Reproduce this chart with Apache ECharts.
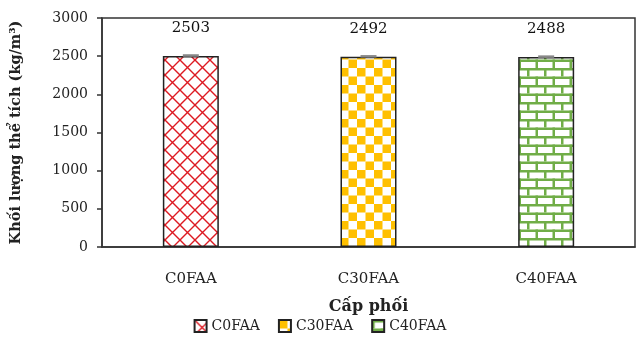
<!DOCTYPE html>
<html><head><meta charset="utf-8">
<script src="https://cdn.jsdelivr.net/npm/echarts@6/dist/echarts.min.js"></script>
<style>html,body{margin:0;padding:0;background:#fff}#c{width:640px;height:339px}</style>
</head><body><div id="c"></div>
<script>
const categories = ['C0FAA', 'C30FAA', 'C40FAA'];
const values = [2503, 2492, 2488];
const errors = [6, 6, 6];
const yTicks = [0, 500, 1000, 1500, 2000, 2500, 3000];

function makeCanvas(w, h, draw) {
  const c = document.createElement('canvas'); c.width = w; c.height = h;
  const ctx = c.getContext('2d'); ctx.fillStyle = '#fff'; ctx.fillRect(0, 0, w, h); draw(ctx); return c;
}
const lattice = makeCanvas(15, 15, ctx => {
  ctx.strokeStyle = '#DD1A22'; ctx.lineWidth = 1.4;
  ctx.beginPath(); ctx.moveTo(0, 0); ctx.lineTo(15, 15); ctx.moveTo(15, 0); ctx.lineTo(0, 15); ctx.stroke();
});
const checker = makeCanvas(17, 17, ctx => {
  ctx.fillStyle = '#FFC000'; ctx.fillRect(0, 0, 8.5, 8.5); ctx.fillRect(8.5, 8.5, 8.5, 8.5);
});
const brick = makeCanvas(17, 17, ctx => {
  ctx.fillStyle = '#70AD47';
  ctx.fillRect(0, 0, 17, 2.5); ctx.fillRect(0, 8.5, 17, 2.5);
  ctx.fillRect(0, 0, 2.5, 8.5); ctx.fillRect(8.5, 8.5, 2.5, 8.5);
});
const patterns = [lattice, checker, brick];
const font = 'DejaVu Serif';

const series = categories.map((name, i) => ({
  name: name, type: 'bar', stack: 's',
  data: categories.map((c, j) => j === i ? values[i] : null),
  barWidth: 56,
  itemStyle: { color: { image: patterns[i], repeat: 'repeat' }, borderColor: '#222', borderWidth: 1.5 },
  label: { show: true, position: 'top', distance: 20, color: '#111', fontFamily: font, fontSize: 15 }
}));
series.push({
  type: 'custom', name: 'err', silent: true,
  renderItem: function (params, api) {
    const x = api.value(0), v = api.value(1), e = api.value(2);
    const top = api.coord([x, v + e]), bot = api.coord([x, v - e]);
    const hw = 8;
    return { type: 'group', children: [
      { type: 'line', shape: { x1: top[0] - hw, y1: top[1], x2: top[0] + hw, y2: top[1] }, style: { stroke: '#888', lineWidth: 2.5 } },
      { type: 'line', shape: { x1: top[0], y1: top[1], x2: bot[0], y2: bot[1] }, style: { stroke: '#888', lineWidth: 2.5 } }
    ]};
  },
  data: categories.map((c, i) => [i, values[i], errors[i]]), z: 10
});

const chart = echarts.init(document.getElementById('c'));
chart.setOption({
  animation: false,
  grid: { left: 102, right: 5, top: 18, bottom: 92, show: true, borderColor: '#333', borderWidth: 1.5 },
  legend: {
    data: categories, bottom: 1, left: 'center', itemWidth: 12, itemHeight: 12, itemGap: 18,
    textStyle: { fontFamily: font, fontSize: 14, color: '#222' }, icon: 'rect'
  },
  xAxis: {
    type: 'category', data: categories,
    name: 'Cấp phối', nameLocation: 'middle', nameGap: 52,
    nameTextStyle: { fontFamily: font, fontSize: 16, fontWeight: 'bold', color: '#222' },
    axisLine: { lineStyle: { color: '#333', width: 1.5 } },
    axisTick: { show: false },
    axisLabel: { fontFamily: font, fontSize: 15, color: '#222', margin: 25 }
  },
  yAxis: {
    type: 'value', min: 0, max: 3000, interval: 500,
    name: 'Khối lượng thể tích (kg/m³)', nameLocation: 'middle', nameGap: 78,
    nameTextStyle: { fontFamily: font, fontSize: 14.5, fontWeight: 'bold', color: '#222' },
    axisLine: { show: true, lineStyle: { color: '#333', width: 1.5 } },
    axisTick: { show: true, length: 5, lineStyle: { color: '#333', width: 1.5 } },
    splitLine: { show: false },
    axisLabel: { fontFamily: font, fontSize: 14, color: '#222', margin: 14,
      formatter: v => yTicks.indexOf(v) >= 0 ? String(v) : '' }
  },
  series: series
});
</script></body></html>
